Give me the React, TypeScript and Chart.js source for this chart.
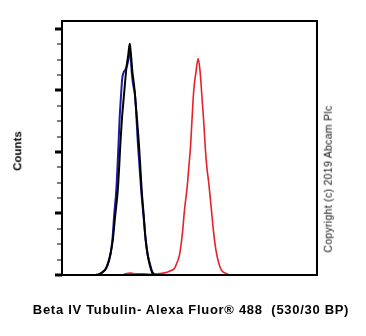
import React, { useEffect, useRef } from "react";
import { Chart, registerables } from "chart.js";

Chart.register(...registerables);

// Channel positions (x) and counts (y) for each histogram
const blackX = [34, 37, 41, 44, 47, 49, 51, 53.5, 56, 57.5, 58.5, 60, 62.3, 64.7, 66.5, 68, 68.8, 70.7, 72.3, 74.7, 77.3, 78.5, 80, 82, 84, 86, 87, 89, 90.7, 94, 97];
const blackY = [0, 0.01, 0.05, 0.1, 0.23, 0.37, 0.57, 0.98, 1.38, 1.79, 2.11, 2.5, 2.94, 3.37, 3.58, 3.76, 3.66, 3.3, 3.09, 2.65, 2.11, 1.79, 1.38, 0.98, 0.57, 0.33, 0.24, 0.11, 0.03, 0, 0];

const blueX = [34, 37, 41, 44, 47, 49, 50.6, 52.4, 54.5, 55.8, 56.7, 57.7, 59.3, 60.5, 62, 64, 66.7, 68, 69, 70, 71.5, 73.3, 76.3, 77.7, 79.5, 81.7, 84, 86, 88, 90, 92, 95];
const blueY = [0, 0.01, 0.05, 0.1, 0.23, 0.37, 0.57, 0.98, 1.38, 1.79, 2.11, 2.5, 2.93, 3.2, 3.3, 3.35, 3.5, 3.66, 3.56, 3.3, 3.09, 2.93, 2.11, 1.79, 1.38, 0.98, 0.57, 0.33, 0.2, 0.08, 0.02, 0];

const redX = [60.7, 64, 69, 74, 82, 89, 96, 102, 109, 113, 115.7, 118, 120.7, 123, 125.7, 127.5, 129, 130.5, 132.3, 134.5, 136.7, 138.5, 140.7, 142.5, 144, 145.5, 147.3, 150, 152.3, 154.5, 157.3, 160, 164, 169, 179];
const redY = [0, 0.02, 0.03, 0.02, 0.02, 0.01, 0.02, 0.03, 0.07, 0.11, 0.21, 0.33, 0.65, 1.06, 1.44, 1.79, 2.08, 2.52, 3.01, 3.3, 3.52, 3.33, 2.85, 2.44, 2.03, 1.74, 1.5, 1.06, 0.68, 0.41, 0.2, 0.08, 0.03, 0, 0];

const xMin = 0;
const xMax = 256;
const yMin = 0;
const yMax = 4.13;
const yTickValues = [0, 0.25, 0.5, 0.75, 1, 1.25, 1.5, 1.75, 2, 2.25, 2.5, 2.75, 3, 3.25, 3.5, 3.75, 4];

const xTitle = "Beta IV Tubulin- Alexa Fluor\u00AE 488\u00A0\u00A0(530/30 BP)";
const yTitle = "Counts";
const copyright = "Copyright (c) 2019 Abcam Plc";

const toPoints = (xs: number[], ys: number[]) => xs.map((x, i) => ({ x, y: ys[i] }));

const framePlugin = {
  id: "frame",
  afterDraw(chart: any) {
    const { ctx, chartArea } = chart;
    const yScale = chart.scales.y;
    ctx.save();
    ctx.strokeStyle = "#000";
    ctx.lineWidth = 2;
    ctx.strokeRect(chartArea.left, chartArea.top, chartArea.right - chartArea.left, chartArea.bottom - chartArea.top);
    for (const v of yTickValues) {
      const py = Math.round(yScale.getPixelForValue(v));
      const major = Math.abs(v - Math.round(v)) < 1e-6;
      ctx.fillStyle = "#000";
      if (major) {
        ctx.fillRect(chartArea.left - 7, py - 1.5, 7, 3);
      } else {
        ctx.fillRect(chartArea.left - 5, py - 0.5, 5, 1);
      }
    }
    ctx.restore();
  },
};

export default function App() {
  const ref = useRef<HTMLCanvasElement | null>(null);
  useEffect(() => {
    document.body.style.margin = "0";
    if (!ref.current) return;
    const chart = new Chart(ref.current, {
      type: "scatter",
      data: {
        datasets: [
          { label: "black", data: toPoints(blackX, blackY), showLine: true, borderColor: "#000000", borderWidth: 2, pointRadius: 0, cubicInterpolationMode: "monotone" },
          { label: "blue", data: toPoints(blueX, blueY), showLine: true, borderColor: "#1c1ca0", borderWidth: 2, pointRadius: 0, cubicInterpolationMode: "monotone" },
          { label: "red", data: toPoints(redX, redY), showLine: true, borderColor: "#e8202a", borderWidth: 1.6, pointRadius: 0, cubicInterpolationMode: "monotone" },
        ],
      },
      options: {
        animation: false,
        responsive: false,
        events: [],
        layout: { padding: { left: 62, right: 49, top: 21, bottom: 61 } },
        plugins: { legend: { display: false }, tooltip: { enabled: false } },
        scales: {
          x: { type: "linear", min: xMin, max: xMax, display: false },
          y: { type: "linear", min: yMin, max: yMax, display: false },
        },
      },
      plugins: [framePlugin],
    } as any);
    return () => chart.destroy();
  }, []);

  return (
    <div style={{ position: "relative", width: 366, height: 336, background: "#fff", fontFamily: "'Liberation Sans', Arial, sans-serif" }}>
      <canvas ref={ref} width={366} height={336} style={{ position: "absolute", left: 0, top: 0, width: 366, height: 336 }} />
      <div style={{ position: "absolute", left: 18, top: 151, transform: "translate(-50%, -50%) rotate(-90deg)", fontSize: 11.5, fontWeight: "bold", whiteSpace: "nowrap", lineHeight: 1 }}>{yTitle}</div>
      <div style={{ position: "absolute", left: 191, top: 309, transform: "translate(-50%, -50%)", fontSize: 13, letterSpacing: 0.7, fontWeight: "bold", whiteSpace: "nowrap", lineHeight: 1 }}>{xTitle}</div>
      <div style={{ position: "absolute", left: 328, top: 179, transform: "translate(-50%, -50%) rotate(-90deg)", fontSize: 10.5, fontWeight: 400, letterSpacing: 0.3, color: "#111", whiteSpace: "nowrap", lineHeight: 1 }}>{copyright}</div>
    </div>
  );
}
